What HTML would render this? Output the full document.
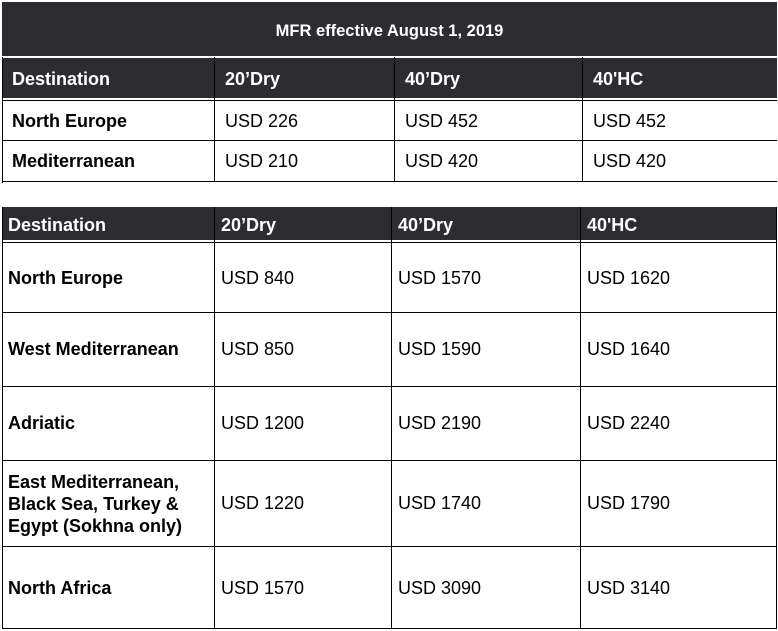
<!DOCTYPE html>
<html><head><style>
body{margin:0;width:778px;height:631px;background:#fff;position:relative;font-family:"Liberation Sans",Arial,sans-serif;overflow:hidden}
div{position:absolute;box-sizing:border-box}
.d{background:#2d2c31;color:#fff;font-weight:bold}
.t{font-size:18px;color:#000;white-space:nowrap}
.b{font-weight:bold}
.w{color:#fff;font-weight:bold;font-size:18px;white-space:nowrap}
.hl{background:#000;height:1px}
.vl{background:#000;width:1px}
</style></head><body>
<!-- top table -->
<div class="d" style="left:2px;top:2px;width:775px;height:97px"></div>
<div class="w" style="left:2px;top:22px;width:775px;text-align:center;font-size:16.5px">MFR effective August 1, 2019</div>
<div style="left:2px;top:56px;width:775px;height:2px;background:#fff"></div>
<div style="left:2px;top:98px;width:775px;height:3px;background:#fff;border-bottom:1px solid #000"></div>
<div style="left:2px;top:57px;width:1px;height:126px;background:#000"></div>
<div class="hl" style="left:2px;top:140px;width:775px"></div>
<div class="hl" style="left:2px;top:181px;width:775px"></div>
<div class="vl" style="left:214px;top:57px;height:125px"></div>
<div class="vl" style="left:394px;top:57px;height:125px"></div>
<div class="vl" style="left:582px;top:57px;height:125px"></div>
<div class="w" style="left:12px;top:69px">Destination</div>
<div class="w" style="left:225px;top:69px">20’Dry</div>
<div class="w" style="left:405px;top:69px">40’Dry</div>
<div class="w" style="left:593px;top:69px">40'HC</div>
<div class="t b" style="left:12px;top:111px">North Europe</div>
<div class="t" style="left:225px;top:111px">USD 226</div>
<div class="t" style="left:405px;top:111px">USD 452</div>
<div class="t" style="left:593px;top:111px">USD 452</div>
<div class="t b" style="left:12px;top:151px">Mediterranean</div>
<div class="t" style="left:225px;top:151px">USD 210</div>
<div class="t" style="left:405px;top:151px">USD 420</div>
<div class="t" style="left:593px;top:151px">USD 420</div>
<!-- bottom table -->
<div class="d" style="left:2px;top:207px;width:775px;height:34px"></div>
<div style="left:2px;top:240px;width:775px;height:3px;background:#fff;border-bottom:1px solid #000"></div>
<div class="vl" style="left:2px;top:207px;height:422px"></div>
<div class="vl" style="left:776px;top:207px;height:422px"></div>
<div class="vl" style="left:214px;top:207px;height:422px"></div>
<div class="vl" style="left:391px;top:207px;height:422px"></div>
<div class="vl" style="left:580px;top:207px;height:422px"></div>
<div class="hl" style="left:2px;top:312px;width:775px"></div>
<div class="hl" style="left:2px;top:386px;width:775px"></div>
<div class="hl" style="left:2px;top:460px;width:775px"></div>
<div class="hl" style="left:2px;top:546px;width:775px"></div>
<div class="hl" style="left:2px;top:628px;width:775px"></div>
<div class="w" style="left:8px;top:215px">Destination</div>
<div class="w" style="left:221px;top:215px">20’Dry</div>
<div class="w" style="left:398px;top:215px">40’Dry</div>
<div class="w" style="left:587px;top:215px">40'HC</div>

<div class="t b" style="left:8px;top:268px">North Europe</div>
<div class="t" style="left:221px;top:268px">USD 840</div>
<div class="t" style="left:398px;top:268px">USD 1570</div>
<div class="t" style="left:587px;top:268px">USD 1620</div>

<div class="t b" style="left:8px;top:339px">West Mediterranean</div>
<div class="t" style="left:221px;top:339px">USD 850</div>
<div class="t" style="left:398px;top:339px">USD 1590</div>
<div class="t" style="left:587px;top:339px">USD 1640</div>

<div class="t b" style="left:8px;top:413px">Adriatic</div>
<div class="t" style="left:221px;top:413px">USD 1200</div>
<div class="t" style="left:398px;top:413px">USD 2190</div>
<div class="t" style="left:587px;top:413px">USD 2240</div>

<div class="t b" style="left:8px;top:471px;line-height:22px">East Mediterranean,<br>Black Sea, Turkey &amp;<br>Egypt (Sokhna only)</div>
<div class="t" style="left:221px;top:493px">USD 1220</div>
<div class="t" style="left:398px;top:493px">USD 1740</div>
<div class="t" style="left:587px;top:493px">USD 1790</div>

<div class="t b" style="left:8px;top:578px">North Africa</div>
<div class="t" style="left:221px;top:578px">USD 1570</div>
<div class="t" style="left:398px;top:578px">USD 3090</div>
<div class="t" style="left:587px;top:578px">USD 3140</div>
</body></html>
